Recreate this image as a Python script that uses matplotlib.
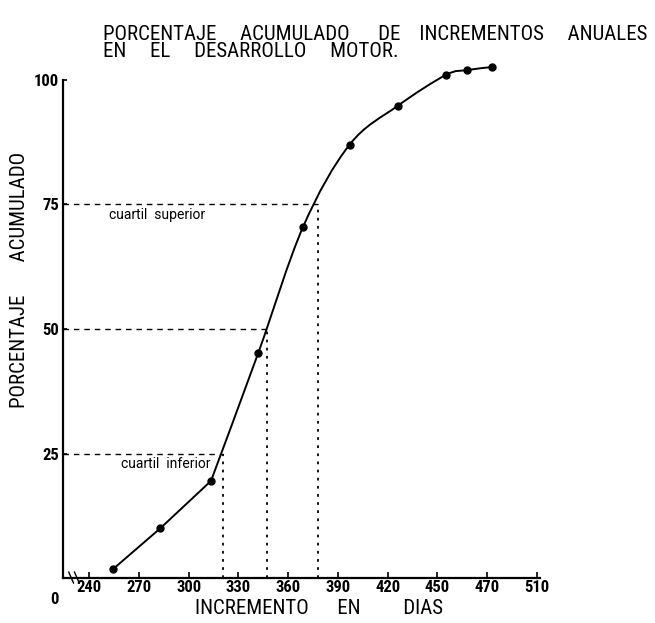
import matplotlib.pyplot as plt
import numpy as np
from matplotlib.path import Path
from matplotlib.patches import PathPatch

plt.rcParams['font.family'] = ['Roboto Condensed', 'Roboto', 'DejaVu Sans']

# datos
dias = [254.5, 283, 313.5, 342, 369, 397, 426, 455, 468, 483]
pct = [1.8, 10.0, 19.5, 45.2, 70.5, 87.0, 94.8, 101.0, 102.0, 102.6]
cuartil_dias = [320.5, 347.5, 378]
cuartil_pct = [25, 50, 75]
xticks = [240, 270, 300, 330, 360, 390, 420, 450, 480, 510]
xlabels = ['240', '270', '300', '330', '360', '390', '420', '450', '470', '510']
yticks = [25, 50, 75, 100]

fig = plt.figure(figsize=(6.55, 6.23), dpi=100)
ax = fig.add_axes([0.0962, 0.0722, 0.7282, 0.7994])
ax.set_xlim(224.3, 511.8)
ax.set_ylim(0, 100)

for s in ['top', 'right']:
    ax.spines[s].set_visible(False)
for s in ['left', 'bottom']:
    ax.spines[s].set_linewidth(1.6)

# tramo recto inicial
ax.plot(dias[:3], pct[:3], color='black', lw=1.4, clip_on=False)

# tramo suave (catmull-rom con bezier cubicas)
px = np.array(dias[2:])
py = np.array(pct[2:])
verts = [(px[0], py[0])]
codes = [Path.MOVETO]
n = len(px)
for i in range(n - 1):
    p0 = i - 1 if i > 0 else i
    p3 = i + 2 if i + 2 < n else i + 1
    c1 = (px[i] + (px[i + 1] - px[p0]) / 6, py[i] + (py[i + 1] - py[p0]) / 6)
    c2 = (px[i + 1] - (px[p3] - px[i]) / 6, py[i + 1] - (py[p3] - py[i]) / 6)
    verts += [c1, c2, (px[i + 1], py[i + 1])]
    codes += [Path.CURVE4] * 3
ax.add_patch(PathPatch(Path(verts, codes), fill=False, lw=1.4, ec='black', clip_on=False))

ax.plot(dias, pct, 'o', color='black', ms=5, clip_on=False)

# lineas de cuartiles
for d, p in zip(cuartil_dias, cuartil_pct):
    ax.plot([224.3, d], [p, p], color='black', lw=1.0, dashes=(4, 3.5))
    ax.plot([d, d], [0, p], color='black', lw=1.3, dashes=(1.5, 3))

ax.text(252, 72.0, 'cuartil  superior', fontsize=10, family='Roboto', ha='left')
ax.text(259, 22.0, 'cuartil  inferior', fontsize=10, family='Roboto', ha='left')

ax.set_xticks(xticks)
ax.set_xticklabels(xlabels, fontsize=12, fontweight='bold')
ax.set_yticks(yticks)
ax.set_yticklabels([str(v) for v in yticks], fontsize=12, fontweight='bold')
ax.tick_params(axis='x', direction='in', length=4, width=1.2, pad=1.5)
ax.tick_params(axis='y', direction='in', length=3, width=1.2, pad=3)

ax.text(-0.017, -0.028, '0', transform=ax.transAxes, fontsize=12, fontweight='bold', ha='center', va='top')
# marca de corte del eje
ax.plot([0.012, 0.022], [0.012, -0.01], transform=ax.transAxes, color='black', lw=1, clip_on=False)
ax.plot([0.024, 0.034], [0.012, -0.01], transform=ax.transAxes, color='black', lw=1, clip_on=False)

fig.text(319 / 655, 15 / 623, 'INCREMENTO      EN         DIAS', fontsize=15, ha='center', va='center')
fig.text(20 / 655, 343 / 623, 'PORCENTAJE       ACUMULADO', fontsize=15, rotation=90, ha='center', va='center')

fig.text(0.157, 0.96, 'PORCENTAJE     ACUMULADO      DE    INCREMENTOS     ANUALES\nEN     EL     DESARROLLO     MOTOR.',
         fontsize=15, ha='left', va='top', linespacing=0.9)

fig.savefig('out.png', dpi=100)
